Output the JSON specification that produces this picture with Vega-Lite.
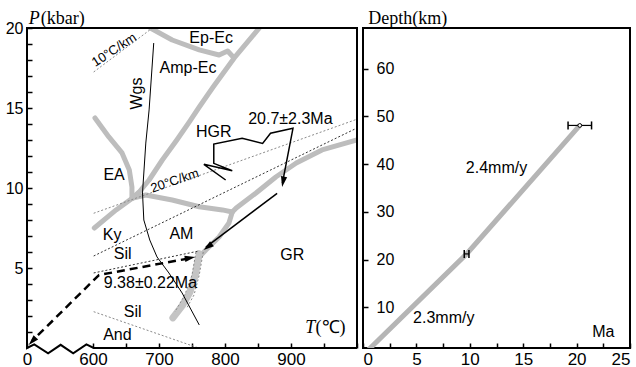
{
  "$schema": "https://vega.github.io/schema/vega-lite/v6.json",
  "background": "white",
  "padding": {"left": 5, "top": 8, "right": 0, "bottom": 0},
  "spacing": 0,
  "config": {
    "view": {"stroke": null},
    "font": "Liberation Sans",
    "axis": {"domain": false, "grid": false, "ticks": true, "tickColor": "black", "tickWidth": 1.5, "tickSize": -5, "labelColor": "black", "labelFont": "Liberation Sans", "labelFontSize": 16, "labelOverlap": false, "labelFlush": false, "labelBound": false}
  },
  "datasets": {
    "frame": [
      {"o": 0, "T": 1000, "P": 0}, {"o": 1, "T": 1000, "P": 20}, {"o": 2, "T": 500, "P": 20}, {"o": 3, "T": 500, "P": 0},
      {"o": 4, "T": 511, "P": 0.23}, {"o": 5, "T": 532, "P": -0.33}, {"o": 6, "T": 551, "P": 0.2}, {"o": 7, "T": 570, "P": -0.33},
      {"o": 8, "T": 590, "P": 0.23}, {"o": 9, "T": 601, "P": 0}, {"o": 10, "T": 1000, "P": 0}
    ],
    "gray": [
      {"id": "g1", "o": 0, "T": 687, "P": 20}, {"id": "g1", "o": 1, "T": 720, "P": 19.25}, {"id": "g1", "o": 2, "T": 761, "P": 18.63}, {"id": "g1", "o": 3, "T": 791, "P": 18.31}, {"id": "g1", "o": 4, "T": 804, "P": 18.56}, {"id": "g1", "o": 5, "T": 812, "P": 18.2},
      {"id": "g2", "o": 0, "T": 852, "P": 20}, {"id": "g2", "o": 1, "T": 814, "P": 18.13}, {"id": "g2", "o": 2, "T": 782, "P": 16.31}, {"id": "g2", "o": 3, "T": 761, "P": 15.06}, {"id": "g2", "o": 4, "T": 746, "P": 14.13}, {"id": "g2", "o": 5, "T": 727, "P": 13.0}, {"id": "g2", "o": 6, "T": 705, "P": 11.75}, {"id": "g2", "o": 7, "T": 685, "P": 10.5}, {"id": "g2", "o": 8, "T": 670, "P": 9.75}, {"id": "g2", "o": 9, "T": 659, "P": 9.35}, {"id": "g2", "o": 10, "T": 635, "P": 8.63}, {"id": "g2", "o": 11, "T": 602, "P": 7.5},
      {"id": "g3", "o": 0, "T": 603, "P": 14.38}, {"id": "g3", "o": 1, "T": 624, "P": 13.19}, {"id": "g3", "o": 2, "T": 644, "P": 12.19}, {"id": "g3", "o": 3, "T": 655, "P": 11.13}, {"id": "g3", "o": 4, "T": 659, "P": 10.06}, {"id": "g3", "o": 5, "T": 659, "P": 9.35},
      {"id": "g4", "o": 0, "T": 659, "P": 9.35}, {"id": "g4", "o": 1, "T": 680, "P": 9.56}, {"id": "g4", "o": 2, "T": 720, "P": 9.25}, {"id": "g4", "o": 3, "T": 761, "P": 8.83}, {"id": "g4", "o": 4, "T": 796, "P": 8.63}, {"id": "g4", "o": 5, "T": 811, "P": 8.5},
      {"id": "g5", "o": 0, "T": 811, "P": 8.5}, {"id": "g5", "o": 1, "T": 817, "P": 8.75}, {"id": "g5", "o": 2, "T": 847, "P": 9.69}, {"id": "g5", "o": 3, "T": 877, "P": 10.69}, {"id": "g5", "o": 4, "T": 908, "P": 11.56}, {"id": "g5", "o": 5, "T": 947, "P": 12.38}, {"id": "g5", "o": 6, "T": 1000, "P": 13.0},
      {"id": "g6", "o": 0, "T": 811, "P": 8.5}, {"id": "g6", "o": 1, "T": 806, "P": 7.81}, {"id": "g6", "o": 2, "T": 791, "P": 6.94}, {"id": "g6", "o": 3, "T": 771, "P": 6.13}, {"id": "g6", "o": 4, "T": 761, "P": 5.69}
    ],
    "band": [
      {"o": 0, "T": 761, "P": 5.9}, {"o": 1, "T": 755, "P": 4.56}, {"o": 2, "T": 747, "P": 3.5}, {"o": 3, "T": 735, "P": 2.63}, {"o": 4, "T": 721, "P": 1.88}
    ],
    "dotLight": [
      {"id": "a", "o": 0, "T": 601, "P": 8.42}, {"id": "a", "o": 1, "T": 1000, "P": 14.3},
      {"id": "t10", "o": 0, "T": 601, "P": 17.25}, {"id": "t10", "o": 1, "T": 690, "P": 20},
      {"id": "d", "o": 0, "T": 601, "P": 2.27}, {"id": "d", "o": 1, "T": 760, "P": 0},
      {"id": "bl", "o": 0, "T": 756, "P": 6.0}, {"id": "bl", "o": 1, "T": 750, "P": 4.56}, {"id": "bl", "o": 2, "T": 739, "P": 3.31}, {"id": "bl", "o": 3, "T": 724, "P": 2.25},
      {"id": "br", "o": 0, "T": 767, "P": 6.0}, {"id": "br", "o": 1, "T": 761, "P": 4.56}, {"id": "br", "o": 2, "T": 753, "P": 3.31}, {"id": "br", "o": 3, "T": 742, "P": 2.5}
    ],
    "dotDark": [
      {"id": "b", "o": 0, "T": 601, "P": 5.75}, {"id": "b", "o": 1, "T": 1000, "P": 13.75},
      {"id": "c", "o": 0, "T": 601, "P": 4.69}, {"id": "c", "o": 1, "T": 760, "P": 6.06}
    ],
    "wgs": [
      {"o": 0, "T": 692, "P": 19.06}, {"o": 1, "T": 685, "P": 14.88}, {"o": 2, "T": 680, "P": 12.81}, {"o": 3, "T": 675, "P": 9.69}, {"o": 4, "T": 677, "P": 8.0}, {"o": 5, "T": 686, "P": 6.75}, {"o": 6, "T": 697, "P": 5.69}, {"o": 7, "T": 715, "P": 4.69}, {"o": 8, "T": 735, "P": 3.44}, {"o": 9, "T": 761, "P": 1.44}
    ],
    "path": [
      {"id": "hgr", "o": 0, "T": 801, "P": 10.5}, {"id": "hgr", "o": 1, "T": 768, "P": 11.48}, {"id": "hgr", "o": 2, "T": 811, "P": 11.08}, {"id": "hgr", "o": 3, "T": 783, "P": 11.54}, {"id": "hgr", "o": 4, "T": 783, "P": 12.75}, {"id": "hgr", "o": 5, "T": 826, "P": 13.11}, {"id": "hgr", "o": 6, "T": 857, "P": 12.79}, {"id": "hgr", "o": 7, "T": 869, "P": 13.42}, {"id": "hgr", "o": 8, "T": 903, "P": 13.73}, {"id": "hgr", "o": 9, "T": 887, "P": 10.3},
      {"id": "ar2", "o": 0, "T": 879, "P": 9.67}, {"id": "ar2", "o": 1, "T": 771, "P": 6.3}
    ],
    "dashed": [
      {"o": 0, "T": 745, "P": 5.6}, {"o": 1, "T": 609, "P": 4.56}, {"o": 2, "T": 508, "P": 0.45}
    ],
    "labels": [
      {"label": "Ep-Ec", "T": 779, "P": 19.4}, {"label": "Amp-Ec", "T": 744, "P": 17.5}, {"label": "HGR", "T": 783, "P": 13.52},
      {"label": "20.7±2.3Ma", "T": 899, "P": 14.3}, {"label": "EA", "T": 632, "P": 10.81}, {"label": "Ky", "T": 629, "P": 7.06},
      {"label": "AM", "T": 734, "P": 7.13}, {"label": "Sil", "T": 645, "P": 5.88}, {"label": "GR", "T": 902, "P": 5.81},
      {"label": "9.38±0.22Ma", "T": 687, "P": 4.04}, {"label": "Sil", "T": 660, "P": 2.27}, {"label": "And", "T": 637, "P": 0.81}
    ],
    "depthLine": [
      {"Ma": 0, "D": 0}, {"Ma": 9.7, "D": 21.2}, {"Ma": 20.3, "D": 48.1}
    ],
    "ages": [
      {"Ma": 9.7, "lo": 9.48, "hi": 9.92, "D": 21.2}, {"Ma": 20.3, "lo": 19.2, "hi": 21.4, "D": 48.1}
    ],
    "rates": [
      {"label": "2.4mm/y", "Ma": 12.5, "D": 39.1}, {"label": "2.3mm/y", "Ma": 7.56, "D": 7.7}, {"label": "Ma", "Ma": 22.5, "D": 4.9}
    ]
  },
  "hconcat": [
    {
      "width": 330,
      "height": 320,
      "encoding": {
        "x": {"field": "T", "type": "quantitative", "scale": {"domain": [500, 1000], "nice": false, "zero": false},
          "axis": {"title": null, "values": [500, 600, 650, 700, 750, 800, 850, 900, 950, 1000], "format": "d",
            "labelExpr": "datum.value == 500 ? '0' : (datum.value % 100 == 0 && datum.value < 1000 ? datum.label : '')",
            "labelFontSize": 17, "labelPadding": 8, "labelBaseline": "top"}},
        "y": {"field": "P", "type": "quantitative", "scale": {"domain": [0, 20], "nice": false, "zero": false},
          "axis": {"title": null, "values": [1, 2, 3, 4, 5, 6, 7, 8, 9, 10, 11, 12, 13, 14, 15, 16, 17, 18, 19, 20],
            "labelExpr": "datum.value % 5 == 0 ? datum.label : ''", "labelPadding": 9}}
      },
      "layer": [
        {"data": {"name": "gray"}, "mark": {"type": "line", "stroke": "#bdbdbd", "strokeWidth": 5, "strokeCap": "round", "strokeJoin": "round", "clip": true},
          "encoding": {"detail": {"field": "id"}, "order": {"field": "o"}}},
        {"data": {"name": "band"}, "mark": {"type": "line", "stroke": "#c4c4c4", "strokeWidth": 7, "strokeCap": "round", "strokeJoin": "round"},
          "encoding": {"order": {"field": "o"}}},
        {"data": {"name": "dotLight"}, "mark": {"type": "line", "stroke": "#8a8a8a", "strokeWidth": 1, "strokeDash": [2, 2]},
          "encoding": {"detail": {"field": "id"}, "order": {"field": "o"}}},
        {"data": {"name": "dotDark"}, "mark": {"type": "line", "stroke": "#333333", "strokeWidth": 1, "strokeDash": [2, 2]},
          "encoding": {"detail": {"field": "id"}, "order": {"field": "o"}}},
        {"data": {"name": "wgs"}, "mark": {"type": "line", "stroke": "black", "strokeWidth": 1},
          "encoding": {"order": {"field": "o"}}},
        {"data": {"name": "path"}, "mark": {"type": "line", "stroke": "black", "strokeWidth": 1.5},
          "encoding": {"detail": {"field": "id"}, "order": {"field": "o"}}},
        {"data": {"name": "dashed"}, "mark": {"type": "line", "stroke": "black", "strokeWidth": 2.5, "strokeDash": [8, 5]},
          "encoding": {"order": {"field": "o"}}},
        {"data": {"values": [{"T": 888, "P": 10.39}]}, "mark": {"type": "point", "shape": "M0,-1L0.6,1L-0.6,1Z", "size": 110, "filled": true, "color": "black", "opacity": 1, "angle": 191}},
        {"data": {"values": [{"T": 774, "P": 6.32}]}, "mark": {"type": "point", "shape": "M0,-1L0.6,1L-0.6,1Z", "size": 110, "filled": true, "color": "black", "opacity": 1, "angle": 232}},
        {"data": {"values": [{"T": 747, "P": 5.63}]}, "mark": {"type": "point", "shape": "M0,-1L0.6,1L-0.6,1Z", "size": 110, "filled": true, "color": "black", "opacity": 1, "angle": 80}},
        {"data": {"values": [{"T": 508, "P": 0.42}]}, "mark": {"type": "point", "shape": "M0,-1L0.6,1L-0.6,1Z", "size": 110, "filled": true, "color": "black", "opacity": 1, "angle": 223}},
        {"data": {"name": "frame"}, "mark": {"type": "line", "stroke": "black", "strokeWidth": 2, "strokeJoin": "miter", "clip": false},
          "encoding": {"order": {"field": "o"}}},
        {"data": {"name": "labels"}, "mark": {"type": "text", "fontSize": 16, "font": "Liberation Sans", "color": "black", "align": "center", "baseline": "middle"},
          "encoding": {"text": {"field": "label"}}},
        {"data": {"values": [{"label": "Wgs", "T": 667, "P": 15.9}]}, "mark": {"type": "text", "fontSize": 16, "angle": 270, "color": "black", "align": "center", "baseline": "middle"},
          "encoding": {"text": {"field": "label"}}},
        {"data": {"values": [{"label": "20°C/km", "T": 724, "P": 10.45}]}, "mark": {"type": "text", "fontSize": 13, "angle": 341, "color": "black", "align": "center", "baseline": "middle"},
          "encoding": {"text": {"field": "label"}}},
        {"data": {"values": [{"label": "10°C/km", "T": 632, "P": 18.63}]}, "mark": {"type": "text", "fontSize": 13, "angle": 327, "color": "black", "align": "center", "baseline": "middle"},
          "encoding": {"text": {"field": "label"}}},
        {"data": {"values": [{"label": "P", "T": 511, "P": 20.55}, {"label": "T", "T": 929, "P": 1.23}]}, "mark": {"type": "text", "fontSize": 18, "font": "Liberation Serif", "fontStyle": "italic", "color": "black", "align": "center", "baseline": "middle"},
          "encoding": {"text": {"field": "label"}}},
        {"data": {"values": [{"label": "(kbar)", "T": 554, "P": 20.55}, {"label": "(℃)", "T": 960, "P": 1.23}]}, "mark": {"type": "text", "fontSize": 18, "font": "Liberation Serif", "color": "black", "align": "center", "baseline": "middle"},
          "encoding": {"text": {"field": "label"}}}
      ]
    },
    {
      "width": 267,
      "height": 320,
      "view": {"stroke": "black", "strokeWidth": 2},
      "encoding": {
        "x": {"field": "Ma", "type": "quantitative", "scale": {"domain": [0, 25], "nice": false, "zero": false},
          "axis": {"title": null, "values": [0, 2.5, 5, 7.5, 10, 12.5, 15, 17.5, 20, 22.5, 25],
            "labelExpr": "datum.value % 5 == 0 ? datum.label : ''", "labelFontSize": 17, "labelPadding": 8, "labelBaseline": "top",
            "labelFlush": true, "labelFlushOffset": 0}},
        "y": {"field": "D", "type": "quantitative", "scale": {"domain": [1.5, 68.5], "nice": false, "zero": false},
          "axis": {"title": null, "values": [10, 20, 30, 40, 50, 60], "labelAlign": "left", "labelPadding": -8}}
      },
      "layer": [
        {"data": {"name": "depthLine"}, "mark": {"type": "line", "stroke": "#b5b5b5", "strokeWidth": 5, "clip": true}},
        {"data": {"name": "ages"}, "mark": {"type": "rule", "stroke": "black", "strokeWidth": 1.2},
          "encoding": {"x": {"field": "lo", "type": "quantitative"}, "x2": {"field": "hi"}}},
        {"data": {"name": "ages"}, "mark": {"type": "tick", "orient": "vertical", "size": 8, "thickness": 1.5, "color": "black", "opacity": 1},
          "encoding": {"x": {"field": "lo", "type": "quantitative"}}},
        {"data": {"name": "ages"}, "mark": {"type": "tick", "orient": "vertical", "size": 8, "thickness": 1.5, "color": "black", "opacity": 1},
          "encoding": {"x": {"field": "hi", "type": "quantitative"}}},
        {"data": {"values": [{"Ma": 20.3, "D": 48.1}]}, "mark": {"type": "point", "shape": "circle", "size": 14, "filled": true, "fill": "white", "stroke": "black", "strokeWidth": 1, "opacity": 1}},
        {"data": {"name": "rates"}, "mark": {"type": "text", "fontSize": 16, "color": "black", "align": "center", "baseline": "middle"},
          "encoding": {"text": {"field": "label"}}},
        {"data": {"values": [{"label": "Depth(km)", "Ma": 4.2, "D": 70.4}]}, "mark": {"type": "text", "fontSize": 18, "font": "Liberation Serif", "color": "black", "align": "center", "baseline": "middle", "clip": false},
          "encoding": {"text": {"field": "label"}}}
      ]
    }
  ]
}
